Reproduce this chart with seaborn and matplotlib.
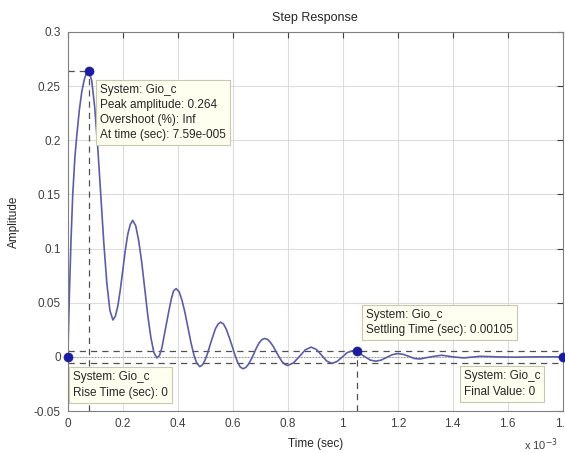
import numpy as np
import pandas as pd
import seaborn as sns
import matplotlib.pyplot as plt

# --- step response (time in ms, i.e. x 10^-3 s) ---
t_ms = [0.000, 0.006, 0.012, 0.018, 0.026, 0.033, 0.042, 0.051, 0.060, 0.068, 0.076,
        0.087, 0.098, 0.109, 0.120, 0.131, 0.142, 0.153, 0.164,
        0.173, 0.182, 0.191, 0.200, 0.209, 0.218, 0.227, 0.236,
        0.247, 0.258, 0.269, 0.280, 0.291, 0.302, 0.313, 0.324,
        0.333, 0.342, 0.350, 0.359, 0.368, 0.377, 0.385, 0.394,
        0.405, 0.415, 0.426, 0.437, 0.448, 0.459, 0.469, 0.480,
        0.490, 0.499, 0.509, 0.518, 0.528, 0.537, 0.547, 0.556,
        0.566, 0.576, 0.586, 0.597, 0.607, 0.617, 0.627, 0.637,
        0.647, 0.657, 0.667, 0.677, 0.686, 0.696, 0.706, 0.716,
        0.727, 0.737, 0.748, 0.758, 0.769, 0.779, 0.790, 0.800,
        0.821, 0.843, 0.864, 0.885, 0.904, 0.923, 0.941, 0.960,
        0.979, 0.998, 1.016, 1.035, 1.050, 1.075, 1.100, 1.120,
        1.140, 1.160, 1.180, 1.200, 1.220, 1.240, 1.260, 1.280,
        1.320, 1.360, 1.400, 1.440, 1.500, 1.560, 1.620, 1.700, 1.800]
amplitude = [0.000, 0.060, 0.110, 0.150, 0.185, 0.205, 0.228, 0.245, 0.256, 0.262, 0.264,
             0.255, 0.230, 0.193, 0.149, 0.105, 0.068, 0.043, 0.034,
             0.0375, 0.047, 0.062, 0.080, 0.098, 0.113, 0.122, 0.126,
             0.121, 0.107, 0.087, 0.0625, 0.038, 0.018, 0.004, -0.001,
             0.001, 0.008, 0.019, 0.031, 0.043, 0.054, 0.061, 0.063,
             0.060, 0.0525, 0.041, 0.027, 0.013, 0.0015, -0.006, -0.009,
             -0.0074, -0.003, 0.0037, 0.0115, 0.0193, 0.026, 0.0304, 0.032,
             0.0304, 0.0257, 0.0187, 0.0105, 0.0023, -0.0047, -0.0094, -0.011,
             -0.0099, -0.0069, -0.0023, 0.003, 0.0083, 0.0129, 0.0159, 0.017,
             0.016, 0.0133, 0.0093, 0.0045, -0.0003, -0.0044, -0.007, -0.008,
             -0.0055, 0.0005, 0.0065, 0.009, 0.0068, 0.0015, -0.0038, -0.006,
             -0.0043, -0.0002, 0.0039, 0.0056, 0.0053, 0.001, -0.003, -0.004,
             -0.003, -0.0005, 0.002, 0.003, 0.0023, 0.0005, -0.0015, -0.002,
             0.000, 0.0015, 0.000, -0.001, 0.0005, 0.000, -0.0003, 0.000, 0.000]

# characteristic points
peak_t, peak_y = 0.0759, 0.264
settle_t, settle_y = 1.05, 0.0053
settle_band = 0.0053
rise_t, rise_y = 0.0, 0.0
final_t, final_y = 1.8, 0.0

x_ticks = [0, 0.2, 0.4, 0.6, 0.8, 1.0, 1.2, 1.4, 1.6, 1.8]
x_tick_labels = ["0", "0.2", "0.4", "0.6", "0.8", "1", "1.2", "1.4", "1.6", "1.8"]
y_ticks = [-0.05, 0, 0.05, 0.1, 0.15, 0.2, 0.25, 0.3]
y_tick_labels = ["-0.05", "0", "0.05", "0.1", "0.15", "0.2", "0.25", "0.3"]

df = pd.DataFrame({"t": t_ms, "y": amplitude})
pts = pd.DataFrame({"t": [rise_t, peak_t, settle_t, final_t],
                    "y": [rise_y, peak_y, settle_y, final_y]})

sns.set_style("white")
plt.rcParams["font.family"] = ["Liberation Sans", "DejaVu Sans"]

fig = plt.figure(figsize=(5.65, 4.53), dpi=100)
ax = fig.add_axes([0.120, 0.0927, 0.876, 0.837])

ax.grid(True, color="#dcdcdc", lw=0.8, ls="-")
ax.set_axisbelow(True)

dash = dict(color="#505050", lw=0.9, ls=(0, (5, 4)))
# settling band + final value
ax.axhline(settle_band, **dash)
ax.axhline(-settle_band, **dash)
ax.axhline(0, color="#909090", lw=0.8, ls=":")
# peak guides
ax.plot([0, peak_t], [peak_y, peak_y], **dash)
ax.plot([peak_t, peak_t], [-0.05, peak_y], **dash)
# settling time guide
ax.plot([settle_t, settle_t], [-0.05, settle_y], **dash)

sns.lineplot(data=df, x="t", y="y", ax=ax, color="#5a5ea6", lw=1.2,
             sort=False, estimator=None)
sns.scatterplot(data=pts, x="t", y="y", ax=ax, color="#1c1ca0", s=42,
                edgecolor="#1c1ca0", zorder=5, clip_on=False)

box = dict(boxstyle="square,pad=0.35", fc="#fffff0", ec="#c8c8b0", lw=0.8)
fs = 8.5
ax.text(0.118, 0.252, "System: Gio_c\nPeak amplitude: 0.264\nOvershoot (%): Inf\nAt time (sec): 7.59e-005",
        fontsize=fs, va="top", ha="left", bbox=box, linespacing=1.35, zorder=6)
ax.text(0.018, -0.0135, "System: Gio_c\nRise Time (sec): 0",
        fontsize=fs, va="top", ha="left", bbox=box, linespacing=1.35, zorder=6)
ax.text(1.085, 0.044, "System: Gio_c\nSettling Time (sec): 0.00105",
        fontsize=fs, va="top", ha="left", bbox=box, linespacing=1.35, zorder=6)
ax.text(1.44, -0.0125, "System: Gio_c\nFinal Value: 0",
        fontsize=fs, va="top", ha="left", bbox=box, linespacing=1.35, zorder=6)

ax.set_xlim(0, 1.8)
ax.set_ylim(-0.05, 0.3)
ax.set_xticks(x_ticks)
ax.set_xticklabels(x_tick_labels)
ax.set_yticks(y_ticks)
ax.set_yticklabels(y_tick_labels)
ax.tick_params(direction="in", length=4, width=0.8, labelsize=8.5,
               colors="#404040", top=True, right=True, pad=5)
for s in ax.spines.values():
    s.set_color("#808080")
    s.set_linewidth(0.8)

ax.set_title("Step Response", fontsize=9, pad=8)
ax.set_xlabel("Time (sec)", fontsize=8.5, labelpad=6)
ax.set_ylabel("Amplitude", fontsize=8.5, labelpad=10)
ax.text(0.99, -0.088, r"x 10$^{-3}$", transform=ax.transAxes, fontsize=8,
        ha="right", va="center", color="#404040")

fig.savefig("out.png", dpi=100)
